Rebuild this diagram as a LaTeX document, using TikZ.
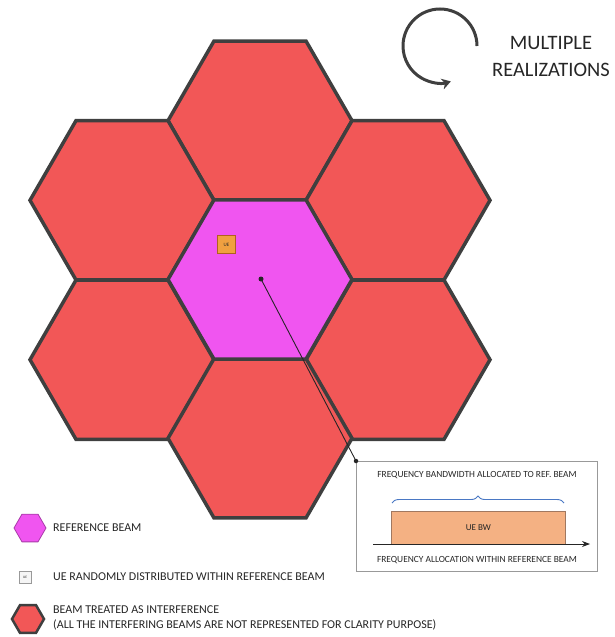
\documentclass[tikz,border=0pt]{standalone}
\usepackage{fontspec}
\setmainfont{Carlito}
\usetikzlibrary{arrows.meta,decorations.pathreplacing}
\definecolor{hexred}{HTML}{F25757}
\definecolor{hexmag}{HTML}{F055F0}
\definecolor{edge}{HTML}{3F3F3F}
\definecolor{txt}{HTML}{262626}
\definecolor{uefill}{HTML}{F0A040}
\definecolor{ueedge}{HTML}{B0601E}
\definecolor{bwfill}{HTML}{F4B183}
\definecolor{bwedge}{HTML}{A07860}
\definecolor{braceblue}{HTML}{4A78C4}
\tikzset{
  hexa/.style={draw=edge, line width=3.5pt, line join=miter},
  lbl/.style={text=txt, inner sep=0pt, anchor=west, font=\fontsize{12}{13}\selectfont},
  insettxt/.style={text=txt, inner sep=0pt, font=\fontsize{9.4}{11}\selectfont},
  dotmark/.style={circle, fill=txt, inner sep=0pt, minimum size=5pt},
}
\newcommand{\hexagonat}[4]{% cx, cy, R, style
  \draw[#4] (#1,#2) +(0:#3) -- +(60:#3) -- +(120:#3) -- +(180:#3) -- +(240:#3) -- +(300:#3) -- cycle;}
\begin{document}
\begin{tikzpicture}[x=1pt,y=-1pt]
\useasboundingbox (0,0) rectangle (614,637);
% interfering beams
\hexagonat{260}{120.7}{92}{hexa,fill=hexred}
\hexagonat{122}{200.3}{92}{hexa,fill=hexred}
\hexagonat{398}{200.3}{92}{hexa,fill=hexred}
\hexagonat{122}{359.7}{92}{hexa,fill=hexred}
\hexagonat{398}{359.7}{92}{hexa,fill=hexred}
\hexagonat{260}{438.3}{92}{hexa,fill=hexred}
% reference beam
\hexagonat{260}{279.5}{92}{hexa,fill=hexmag}
% UE
\node (ue) [draw=ueedge, fill=uefill, line width=0.8pt, minimum size=18pt, inner sep=0pt,
  font=\fontsize{5}{5}\selectfont, text=txt] at (226.5,244.5) {UE};
% center dot and inset
\node (cdot) [dotmark] at (261,279) {};
\node (inset) [draw=gray!80, line width=1pt, anchor=north west, minimum width=241pt,
  minimum height=110pt, inner sep=0pt] at (356,461) {};
\draw[txt, line width=0.9pt] (cdot.center) -- (inset.north west);
\node (cornerdot) [dotmark, minimum size=4.5pt] at (inset.north west) {};
% inset contents
\node (bwtitle) [insettxt] at (477,475) {FREQUENCY BANDWIDTH ALLOCATED TO REF. BEAM};
\node (uebw) [draw=bwedge, fill=bwfill, line width=0.6pt, anchor=north west, minimum width=174pt,
  minimum height=33pt, inner sep=0pt, font=\fontsize{9}{10}\selectfont, text=txt] at (391,511) {UE BW};
\coordinate (bl) at (392,503);
\coordinate (br) at (564,503);
\draw[braceblue, line width=0.9pt, decorate, decoration={brace, amplitude=7pt}] (bl) -- (br);
\coordinate (ax0) at (373,544);
\coordinate (ax1) at (590,544);
\draw[txt, line width=0.8pt, -{Stealth[length=8pt,width=6pt]}] (ax0) -- (ax1);
\node (axlbl) [insettxt] at (477,560) {FREQUENCY ALLOCATION WITHIN REFERENCE BEAM};
% multiple realizations
\draw[edge, line width=3pt, -{Stealth[length=9pt,width=11pt]}] (477,46) arc[start angle=0, end angle=287, radius=37pt];
\node (mr) [text=txt, align=center, inner sep=0pt, font=\fontsize{20.5}{27}\selectfont] at (551,56) {MULTIPLE\\REALIZATIONS};
% legend
\hexagonat{30}{528}{16}{draw=hexmag!70!black, line width=0.8pt, fill=hexmag}
\node (l1) [lbl] at (53,528) {REFERENCE BEAM};
\node (uelg) [draw=gray!80, fill=gray!8, line width=0.6pt, minimum size=12pt, inner sep=0pt,
  font=\fontsize{3.5}{4}\selectfont, text=txt] at (25,577) {UE};
\node (l2) [lbl] at (53,577) {UE RANDOMLY DISTRIBUTED WITHIN REFERENCE BEAM};
\hexagonat{28}{619}{16}{draw=edge, line width=2.5pt, fill=hexred}
\node (l3) [lbl, align=left, font=\fontsize{12}{14.5}\selectfont] at (53,618) {BEAM TREATED AS INTERFERENCE\\(ALL THE INTERFERING BEAMS ARE NOT REPRESENTED FOR CLARITY PURPOSE)};
\end{tikzpicture}
\end{document}
